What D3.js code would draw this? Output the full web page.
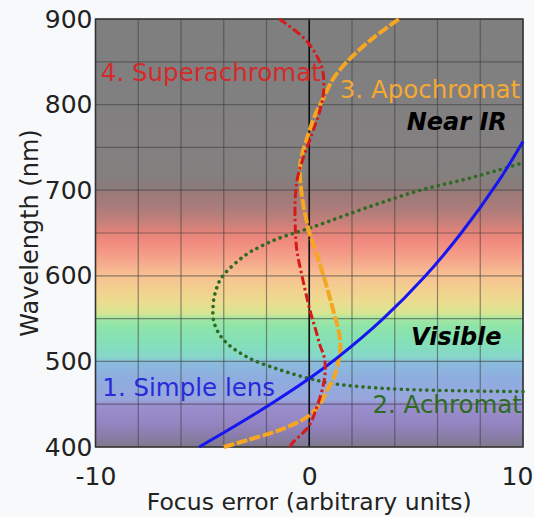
<!DOCTYPE html>
<html>
<head>
<meta charset="utf-8">
<script src="https://cdn.jsdelivr.net/npm/d3@7"></script>
<style>
  html, body { margin: 0; padding: 0; background: #f8f9fa; }
  svg { display: block; font-family: "DejaVu Sans", sans-serif; }
</style>
</head>
<body>
<svg id="chart" width="534" height="517"></svg>
<script>
// ---------------- data ----------------
const wavelengthTicks = [400, 500, 600, 700, 800, 900];
const focusTicks = [-10, 0, 10];
const gridWavelengths = [400, 450, 500, 550, 600, 650, 700, 750, 800, 850, 900];
const gridFocus = [-10, -8, -6, -4, -2, 0, 2, 4, 6, 8, 10];

const seriesNames = ["1. Simple lens", "2. Achromat", "3. Apochromat", "4. Superachromat"];
const regionNames = ["Near IR", "Visible"];

// Simple lens
const simpleWavelength = [400, 440, 480, 505, 550, 600, 650, 710, 757];
const simpleFocus      = [-5.15, -2.45, 0, 1.35, 3.46, 5.44, 7.11, 8.84, 10];

// Achromat
const achromatWavelength = [464.7, 465.5, 467.4, 470.5, 474.5, 480, 490, 505, 525, 545, 565, 580, 598, 624, 634, 644, 656, 681, 700, 714, 731.6];
const achromatFocus      = [10, 7.4, 4.3, 2.4, 1.0, 0, -1.36, -2.9, -4.0, -4.45, -4.5, -4.4, -4.1, -3.0, -2.3, -1.4, 0.05, 2.85, 5.2, 7.5, 9.95];

// Apochromat
const apoWavelength = [400, 408, 420, 435, 450, 467, 480, 495, 513, 530, 558, 600, 636, 654, 693, 730, 765, 788, 808, 831, 854, 878, 900];
const apoFocus      = [-4.0, -2.9, -1.36, -0.11, 0.5, 0.85, 1.14, 1.32, 1.45, 1.42, 1.14, 0.67, 0.2, -0.03, -0.34, -0.42, -0.05, 0.28, 0.67, 1.14, 1.92, 3.0, 4.2];

// Superachromat
const superWavelength = [400, 404, 424, 447, 474, 490, 505, 519, 537, 558, 600, 630, 654, 693, 720, 765, 788, 815, 843, 874, 900];
const superFocus      = [-0.9, -0.81, -0.03, 0.36, 0.67, 0.75, 0.7, 0.5, 0.3, 0.05, -0.34, -0.58, -0.65, -0.65, -0.5, 0.12, 0.44, 0.67, 0.59, -0.11, -1.4];

// background spectrum (wavelength -> tint)
const spectrumWavelength = [900, 720, 701, 699, 680, 665, 650, 640, 625, 610, 600, 585, 570, 556, 550, 540, 520, 505, 499, 480, 455, 450, 430, 415, 400];
const spectrumColor = ["#7f7f7f", "#838080", "#8b7b79", "#9a7a78", "#a97c7a", "#c27f7a", "#e48479", "#f08a7e", "#f49c87", "#f6b28f", "#f7c292", "#f3cf90", "#ecdc8f", "#d6e592", "#a4e6a2", "#8de4aa", "#84dfba", "#86d6ca", "#8bbcdc", "#8eade0", "#98a6dc", "#9a90d0", "#9586c4", "#8b7eae", "#7e7a8c"];

// ---------------- layout ----------------
const svg = d3.select("#chart");
const x = d3.scaleLinear().domain([-10, 10]).range([95.5, 523]);
const y = d3.scaleLinear().domain([400, 900]).range([447, 19]);

const defs = svg.append("defs");
const grad = defs.append("linearGradient")
  .attr("id", "spectrum")
  .attr("gradientUnits", "userSpaceOnUse")
  .attr("x1", 0).attr("x2", 0)
  .attr("y1", y(900)).attr("y2", y(400));
grad.selectAll("stop")
  .data(spectrumWavelength.map((w, i) => ({ w, c: spectrumColor[i] })))
  .join("stop")
  .attr("offset", d => (900 - d.w) / 500)
  .attr("stop-color", d => d.c);

svg.append("rect")
  .attr("x", x(-10)).attr("y", y(900))
  .attr("width", x(10) - x(-10)).attr("height", y(400) - y(900))
  .attr("fill", "url(#spectrum)");

// grid
const grid = svg.append("g").attr("stroke", "#3c3c3c").attr("stroke-opacity", 0.55).attr("stroke-width", 1.2);
grid.selectAll("line.h").data(gridWavelengths).join("line")
  .attr("class", "h")
  .attr("x1", x(-10)).attr("x2", x(10))
  .attr("y1", d => y(d)).attr("y2", d => y(d));
grid.selectAll("line.v").data(gridFocus).join("line")
  .attr("class", "v")
  .attr("y1", y(400)).attr("y2", y(900))
  .attr("x1", d => x(d)).attr("x2", d => x(d));

// zero line
svg.append("line")
  .attr("x1", x(0)).attr("x2", x(0))
  .attr("y1", y(400)).attr("y2", y(900))
  .attr("stroke", "#111").attr("stroke-width", 1.6);

// frame
svg.append("rect")
  .attr("x", x(-10)).attr("y", y(900))
  .attr("width", x(10) - x(-10)).attr("height", y(400) - y(900))
  .attr("fill", "none").attr("stroke", "#333").attr("stroke-width", 1.5);

// curves
const line = d3.line().x(d => x(d[1])).y(d => y(d[0])).curve(d3.curveCatmullRom.alpha(0.5));
const zip = (a, b) => a.map((v, i) => [v, b[i]]);

const plot = svg.append("g");
plot.append("path").datum(zip(achromatWavelength, achromatFocus))
  .attr("d", line).attr("fill", "none")
  .attr("stroke", "#2f6b24").attr("stroke-width", 3.6)
  .attr("stroke-linecap", "round").attr("stroke-dasharray", "0.1,6.3");
plot.append("path").datum(zip(apoWavelength, apoFocus))
  .attr("d", line).attr("fill", "none")
  .attr("stroke", "#f5a623").attr("stroke-width", 4)
  .attr("stroke-dasharray", "11,2.5");
plot.append("path").datum(zip(simpleWavelength, simpleFocus))
  .attr("d", line).attr("fill", "none")
  .attr("stroke", "#1616f0").attr("stroke-width", 3);
plot.append("path").datum(zip(superWavelength, superFocus))
  .attr("d", line).attr("fill", "none")
  .attr("stroke", "#d41a1a").attr("stroke-width", 3)
  .attr("stroke-dasharray", "9,3,2.5,3");

// axes
const yAxis = svg.append("g")
  .attr("transform", `translate(${x(-10)},0)`)
  .call(d3.axisLeft(y).tickValues(wavelengthTicks).tickSize(0).tickPadding(3).tickFormat(d => String(d)));
const xAxis = svg.append("g")
  .attr("transform", `translate(0,${y(400)})`)
  .call(d3.axisBottom(x).tickValues(focusTicks).tickSize(0).tickPadding(20).tickFormat(d => String(d)));
[yAxis, xAxis].forEach(a => {
  a.select(".domain").remove();
  a.selectAll("text").attr("font-size", 25).attr("fill", "#222").attr("font-family", "DejaVu Sans, sans-serif");
});
xAxis.selectAll(".tick").filter(d => d === 10).select("text").attr("dx", -6);

// axis titles
svg.append("text")
  .attr("transform", `translate(37.5,${(y(400) + y(900)) / 2}) rotate(-90)`)
  .attr("text-anchor", "middle").attr("font-size", 24).attr("fill", "#222")
  .text("Wavelength (nm)");
svg.append("text")
  .attr("x", (x(-10) + x(10)) / 2).attr("y", 510)
  .attr("text-anchor", "middle").attr("font-size", 23.5).attr("fill", "#222")
  .text("Focus error (arbitrary units)");

// series labels
const labels = svg.append("g").attr("font-size", 24.5);
labels.append("text").attr("x", x(-9.75)).attr("y", y(828))
  .attr("fill", "#d42a2a").text(seriesNames[3]);
labels.append("text").attr("x", x(9.87)).attr("y", y(807.5)).attr("text-anchor", "end")
  .attr("fill", "#f5a932").text(seriesNames[2]);
labels.append("text").attr("x", x(-9.68)).attr("y", y(460))
  .attr("fill", "#2a2ad8").text(seriesNames[0]);
labels.append("text").attr("x", x(9.95)).attr("y", y(439.4)).attr("text-anchor", "end")
  .attr("fill", "#2e6b1f").text(seriesNames[1]);

// region labels
labels.append("text").attr("x", x(6.9)).attr("y", y(770)).attr("text-anchor", "middle")
  .attr("font-size", 24).attr("font-weight", "bold").attr("font-style", "italic").attr("fill", "#000").text(regionNames[0]);
labels.append("text").attr("x", x(6.88)).attr("y", y(519)).attr("text-anchor", "middle")
  .attr("font-size", 24).attr("font-weight", "bold").attr("font-style", "italic").attr("fill", "#000").text(regionNames[1]);
</script>
</body>
</html>
